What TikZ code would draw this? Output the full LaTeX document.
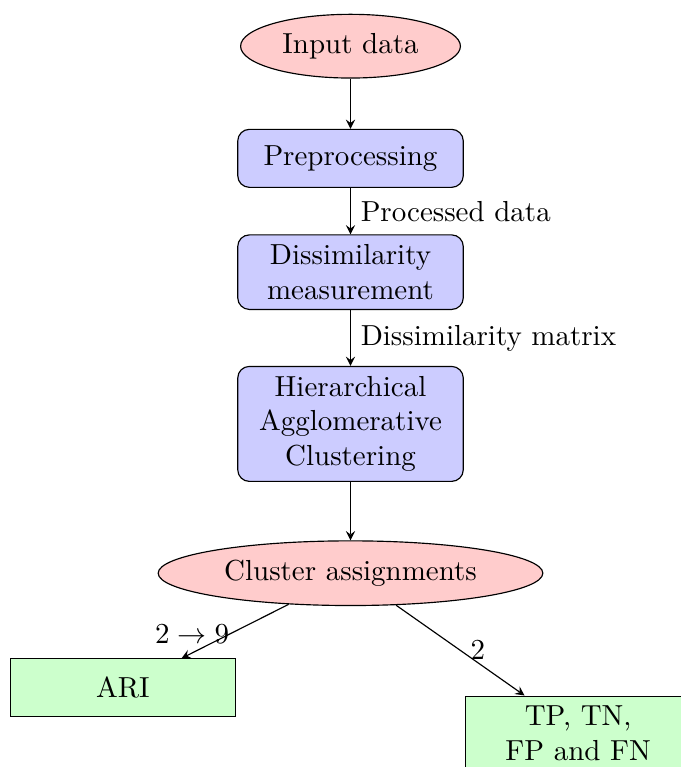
\documentclass[tikz,border=0pt]{standalone}
\usetikzlibrary{shapes.geometric}

\begin{document}
\begin{tikzpicture}[>=stealth,
        cloud/.style={draw, ellipse, fill=red!20},
        block/.style={draw, rectangle, rounded corners, fill=blue!20, text width=2.5cm, align=center, minimum height=2em},
        result/.style={draw, rectangle, fill=green!20, text width=2.5cm, align=center, minimum height=2em},
        line/.style={->}]
        % --- CADRE ---
        \useasboundingbox (-4.25,0.56) rectangle (4.0,-8.74);

        % --- NOEUDS ---
        \node[cloud] (input) at (0,0) {Input data};
        \node[block] (prep) at (0,-1.36) {Preprocessing};
        \node[block] (diss) at (0,-2.74) {Dissimilarity measurement};
        \node[block] (hac) at (0,-4.58) {Hierarchical Agglomerative Clustering};
        \node[cloud] (clusters) at (0,-6.39) {Cluster assignments};

        % Evaluations
        \node[result] (ari) at (-2.76,-7.78) {ARI};
        \node[result] (conf) at (2.76,-8.33) {TP, TN,\\ FP and FN};

        % --- FLECHES ---
        \draw[line] (input) -- (prep);
        \draw[line] (prep) -- (diss) node[midway, right] {Processed data};
        \draw[line] (diss) -- (hac) node[midway, right] {Dissimilarity matrix};
        \draw[line] (hac) -- (clusters);
        \draw[line] (clusters) -- (ari) node[midway, left, xshift=1.5pt, yshift=-1pt] {$2 \rightarrow 9$};
        \draw[line] (clusters) -- (conf) node[midway, right] {$2$};

    \end{tikzpicture}
\end{document}
